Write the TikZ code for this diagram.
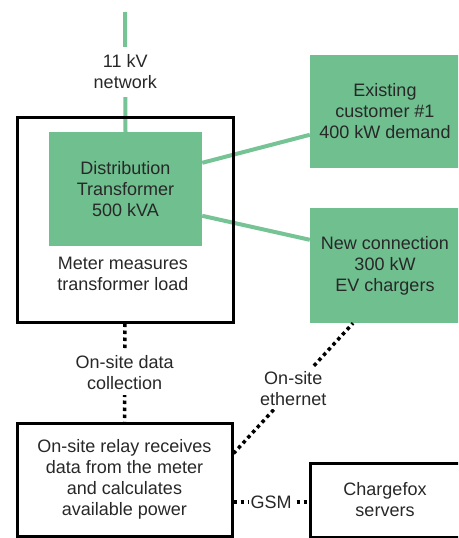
\documentclass[tikz,border=0pt]{standalone}
\usepackage{fontspec}
\setmainfont{Liberation Sans}
\usetikzlibrary{backgrounds}
\definecolor{gfill}{RGB}{111,191,143}
\definecolor{gline}{RGB}{118,195,150}
\definecolor{txt}{RGB}{40,40,40}
\tikzset{
  every node/.style={font=\fontsize{18pt}{21pt}\selectfont, text=txt, align=center},
  greenbox/.style={fill=gfill, draw=none, inner sep=0pt},
  blackbox/.style={draw=black, line width=3pt, fill=white, inner sep=0pt},
  powerline/.style={draw=gline, line width=4pt},
  dotline/.style={draw=black, line width=3.5pt, dash pattern=on 3.5pt off 3.5pt},
  lbl/.style={fill=white, inner sep=3pt}
}
\begin{document}
\begin{tikzpicture}[x=1pt,y=-1pt]
\useasboundingbox (0,0) rectangle (458,538);
\clip (0,0) rectangle (458,538);
% nodes
\coordinate (gridtop) at (125,12);
\node[blackbox, fill=none, minimum width=216pt, minimum height=205pt] (mb) at (125,219.5) {};
\node[greenbox, minimum width=153pt, minimum height=114pt] (tr) at (125.5,189) {Distribution\\Transformer\\500 kVA};
\node (mtext) at (123,274) {Meter measures\\transformer load};
\node[greenbox, minimum width=150pt, minimum height=113pt] (ex) at (385,111.5) {Existing\\customer \#1\\400 kW demand};
\node[greenbox, minimum width=150pt, minimum height=115pt] (nc) at (385,265.5) {New connection\\300 kW\\EV chargers};
\node[blackbox, minimum width=215pt, minimum height=113pt] (relay) at (124.5,479.5) {On-site relay receives\\data from the meter\\and calculates\\available power};
\node[blackbox, minimum width=155pt, minimum height=74pt] (cf) at (387.5,500) {};
\node (cftext) at (385,500) {Chargefox\\servers};
% power connections
\begin{scope}[on background layer]
\draw[powerline] (gridtop) -- (tr.north) node[midway, lbl, inner sep=8pt] {11 kV\\network};
\draw[powerline] ([yshift=-31pt]tr.north east) -- ([yshift=-80pt]ex.north west);
\draw[powerline] ([yshift=-84pt]tr.north east) -- ([yshift=-32pt]nc.north west);
\end{scope}
% data connections
\draw[dotline] (mb.south) -- (relay.north) node[midway, lbl, inner sep=5pt] {On-site data\\collection};
\draw[dotline] ([yshift=-32pt]relay.north east) -- ([xshift=-32pt]nc.south) node[midway, lbl, inner sep=4pt] {On-site\\ethernet};
\path ([yshift=-22.5pt]relay.east) coordinate (g1);
\draw[dotline] (g1) -- (g1 -| cf.west) node[midway, lbl, inner sep=2pt] {GSM};
\end{tikzpicture}
\end{document}
